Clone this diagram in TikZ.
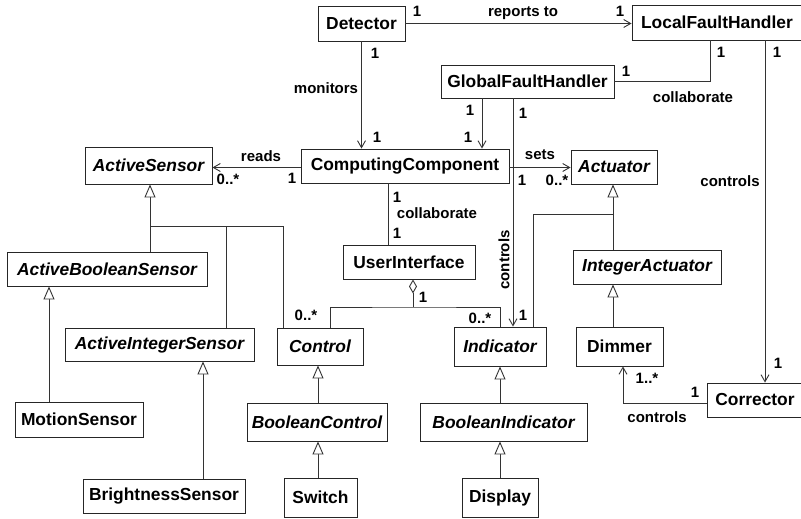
\documentclass[tikz,border=0pt]{standalone}
\usepackage{fontspec}
\setmainfont{Liberation Sans}
\usetikzlibrary{arrows.meta}
\tikzset{
  cls/.style={draw=black!85, line width=0.9pt, fill=white, inner sep=0pt,
    font=\fontsize{17.4}{20}\selectfont\bfseries},
  abs/.style={cls, font=\fontsize{17.4}{20}\selectfont\bfseries\itshape},
  lbl/.style={inner sep=0pt, font=\fontsize{15}{18}\selectfont\bfseries},
  link/.style={draw=black!80, line width=0.9pt},
  nav/.style={link, -{Straight Barb[length=7pt, width=8pt, line width=0.9pt]}},
  gen/.style={link, -{Triangle[open, length=13pt, width=11pt, fill=white, line width=0.9pt]}},
  agg/.style={link, {Diamond[open, length=14pt, width=8pt, fill=white, line width=0.9pt]}-},
}
\begin{document}
\begin{tikzpicture}[x=1pt, y=-1pt]
\useasboundingbox (0,0) rectangle (801,519);
\clip (0,0) rectangle (801,519);

% classes
\node[cls, minimum width=87pt,  minimum height=35pt] (det)  at (361.5,23.5) {Detector};
\node[cls, minimum width=170pt, minimum height=35pt] (lfh)  at (717,22.5)   {LocalFaultHandler};
\node[cls, minimum width=173pt, minimum height=33pt] (gfh)  at (527.5,81.5) {GlobalFaultHandler};
\node[cls, minimum width=208pt, minimum height=34pt] (cc)   at (405,166)    {ComputingComponent};
\node[abs, minimum width=127pt, minimum height=37pt] (as)   at (148.5,165.5){ActiveSensor};
\node[abs, minimum width=86pt,  minimum height=34pt] (act)  at (614,167)    {Actuator};
\node[cls, minimum width=132pt, minimum height=34pt] (ui)   at (409,262)    {UserInterface};
\node[abs, minimum width=200pt, minimum height=34pt] (abs)  at (107,269)    {ActiveBooleanSensor};
\node[abs, minimum width=148pt, minimum height=34pt] (ia)   at (647,267)    {IntegerActuator};
\node[abs, minimum width=189pt, minimum height=33pt] (ais)  at (159.5,344.5){ActiveIntegerSensor};
\node[abs, minimum width=86pt,  minimum height=37pt] (ctl)  at (320,346.5)  {Control};
\node[abs, minimum width=92pt,  minimum height=39pt] (ind)  at (500,346.5)  {Indicator};
\node[cls, minimum width=87pt,  minimum height=39pt] (dim)  at (619.5,346.5){Dimmer};
\node[cls, minimum width=128pt, minimum height=35pt] (ms)   at (79,419.5)   {MotionSensor};
\node[abs, minimum width=140pt, minimum height=38pt] (bc)   at (317,422)    {BooleanControl};
\node[abs, minimum width=167pt, minimum height=38pt] (bi)   at (503.5,422)  {BooleanIndicator};
\node[cls, minimum width=96pt,  minimum height=34pt] (cor)  at (755,400)    {Corrector};
\node[cls, minimum width=162pt, minimum height=34pt] (bs)   at (164,496)    {BrightnessSensor};
\node[cls, minimum width=73pt,  minimum height=39pt] (sw)   at (320.5,497.5){Switch};
\node[cls, minimum width=76pt,  minimum height=39pt] (dsp)  at (500,497.5)  {Display};

% routing columns and junctions
\coordinate (xg)  at (482,0);
\coordinate (xc)  at (513,0);
\coordinate (xl)  at (710,0);
\coordinate (xr)  at (765,0);
\coordinate (xu)  at (388,0);
\coordinate (xs)  at (150,0);
\coordinate (xm)  at (49,0);
\coordinate (xb)  at (203,0);
\coordinate (xk)  at (318,0);
\coordinate (xa)  at (613,0);
\coordinate (xd)  at (623,0);
\coordinate (yr)  at (0,167.5);
\coordinate (aj)  at (413,307);
\coordinate (sj)  at (150,226);
\coordinate (tj)  at (613,214);
\coordinate (cj)  at (707,403);

% associations
\draw[nav] (det.east) -- (det.east -| lfh.west);
\draw[nav] (det.south) -- (det.south |- cc.north);
\draw[nav] (gfh.south -| xg) -- (cc.north -| xg);
\draw[nav] (gfh.south -| xc) -- (ind.north -| xc);
\draw[link] (lfh.south -| xl) |- (gfh.east);
\draw[nav] (lfh.south -| xr) -- (cor.north -| xr);
\draw[nav] (cc.west |- yr) -- (as.east |- yr);
\draw[nav] (cc.east |- yr) -- (act.west |- yr);
\draw[link] (cc.south -| xu) -- (ui.north -| xu);
\draw[nav] (cj) -| (dim.south -| xd);

% aggregation
\draw[agg] (ui.south -| aj) -- (aj);
\draw[link] (ctl.north -| 330,0) |- (aj) -| (ind.north);

% generalizations
\draw[gen] (abs.north -| xs) -- (as.south -| xs);
\draw[link] (ais.north -| 226,0) |- (sj);
\draw[link] (ctl.north -| 283,0) |- (sj);
\draw[gen] (ms.north -| xm) -- (abs.south -| xm);
\draw[gen] (bs.north -| xb) -- (ais.south -| xb);
\draw[gen] (bc.north -| xk) -- (ctl.south -| xk);
\draw[gen] (sw.north -| xk) -- (bc.south -| xk);
\draw[gen] (bi.north -| ind.south) -- (ind.south);
\draw[gen] (dsp.north) -- (dsp.north |- bi.south);
\draw[gen] (ia.north -| xa) -- (act.south -| xa);
\draw[link] (ind.north -| 533,0) |- (tj);
\draw[gen] (dim.north -| xa) -- (ia.south -| xa);

% association labels and multiplicities
\node[lbl] (l1)  at (523,13)  {reports to};
\node[lbl] (l2)  at (417,11)  {1};
\node[lbl] (l3)  at (620,11)  {1};
\node[lbl] (l4)  at (375,53)  {1};
\node[lbl] (l5)  at (326,88)  {monitors};
\node[lbl] (l6)  at (377,137) {1};
\node[lbl] (l7)  at (470,110) {1};
\node[lbl] (l8)  at (468,137) {1};
\node[lbl] (l9)  at (523,113) {1};
\node[lbl] (l10) at (721,52)  {1};
\node[lbl] (l11) at (626,71)  {1};
\node[lbl] (l12) at (693,97)  {collaborate};
\node[lbl] (l13) at (777,52)  {1};
\node[lbl] (l14) at (730,181) {controls};
\node[lbl] (l15) at (778,363) {1};
\node[lbl] (l16) at (261,156) {reads};
\node[lbl] (l17) at (228,179) {0..*};
\node[lbl] (l18) at (292,178) {1};
\node[lbl] (l19) at (540,155) {sets};
\node[lbl] (l20) at (522,180) {1};
\node[lbl] (l21) at (557,180) {0..*};
\node[lbl] (l22) at (397,197) {1};
\node[lbl] (l23) at (437,213) {collaborate};
\node[lbl] (l24) at (397,233) {1};
\node[lbl, rotate=90] (l25) at (504,260) {controls};
\node[lbl] (l26) at (423,297) {1};
\node[lbl] (l27) at (306,315) {0..*};
\node[lbl] (l28) at (480,318) {0..*};
\node[lbl] (l29) at (523,315) {1};
\node[lbl] (l30) at (647,378) {1..*};
\node[lbl] (l31) at (695,392) {1};
\node[lbl] (l32) at (657,417) {controls};
\end{tikzpicture}
\end{document}
